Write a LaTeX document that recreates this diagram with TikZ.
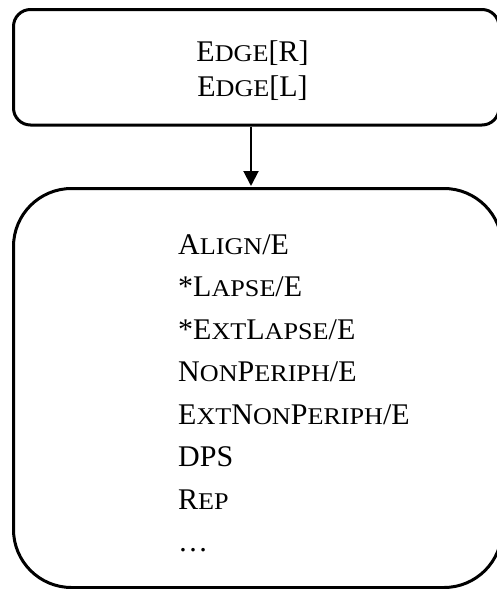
\documentclass[tikz,border=0pt]{standalone}
\usepackage{fontspec}
\usepackage{graphicx}
\setmainfont{Liberation Serif}
\usetikzlibrary{arrows.meta}
\newcommand\smc[1]{\scalebox{1.09}[1]{\fontsize{24}{24}\selectfont #1}}
\tikzset{
  boxstyle/.style={draw=black, line width=3pt, inner sep=0pt},
  linestyle/.style={anchor=base west, inner sep=0pt, font=\fontsize{30}{36}\selectfont},
  toptext/.style={anchor=base, inner sep=0pt, font=\fontsize{30}{36}\selectfont},
  conn/.style={line width=2pt, -{Triangle[length=15pt,width=15pt]}, shorten >=1pt}
}
\begin{document}
\begin{tikzpicture}[x=1pt,y=1pt]
\useasboundingbox (0,0) rectangle (497,-589);
\node[boxstyle, rounded corners=17pt, minimum width=485.5pt, minimum height=115.5pt] (top) at (256.25,-67.25) {};
\node[boxstyle, rounded corners=58pt, minimum width=488.5pt, minimum height=399pt] (bot) at (257.75,-388) {};
\node[toptext] (t1) at (252.5,-61) {E\smc{DGE}[R]};
\node[toptext] (t2) at (252.5,-96) {E\smc{DGE}[L]};
\node[linestyle] (l1) at (178,-254) {A\smc{LIGN}/E};
\node[linestyle] (l2) at (178,-296.5) {*L\smc{APSE}/E};
\node[linestyle] (l3) at (178,-339) {*E\smc{XT}L\smc{APSE}/E};
\node[linestyle] (l4) at (178,-381.5) {N\smc{ON}P\smc{ERIPH}/E};
\node[linestyle] (l5) at (178,-424) {E\smc{XT}N\smc{ON}P\smc{ERIPH}/E};
\node[linestyle] (l6) at (178,-466.5) {DPS};
\node[linestyle] (l7) at (178,-509) {R\smc{EP}};
\node[linestyle] (l8) at (178,-551.5) {\dots};
\coordinate (ax) at (251,0);
\draw[conn] (top.south -| ax) -- (bot.north -| ax);
\end{tikzpicture}
\end{document}
